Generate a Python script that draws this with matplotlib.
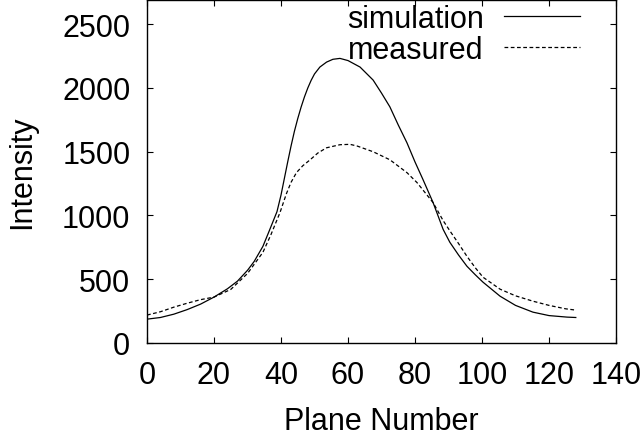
import matplotlib
matplotlib.use('Agg')
import matplotlib.pyplot as plt
from matplotlib import rcParams as rc

# simulated profile
sim_x = [0, 4, 8, 12, 16, 20, 24, 27, 30, 32, 34.6, 36.5, 38.8, 40, 41, 42, 43, 44, 45, 46, 47, 48,
         49, 50, 51.6, 53.6, 55.5, 57.6, 60, 63.6, 67.5, 70, 72.5, 75, 77.6, 80, 82.4, 85.4, 88.4,
         90.4, 93, 95.5, 98, 100.3, 105.4, 110, 115.2, 120, 125.4, 128]
sim_y = [187, 200, 226, 262, 305, 360, 425, 485, 570, 640, 758, 880, 1030, 1160, 1290, 1420, 1545, 1660, 1760, 1850, 1930, 2000,
         2060, 2110, 2164, 2203, 2225, 2232, 2215, 2164, 2062, 1960, 1852, 1710, 1570, 1420, 1281, 1101, 891,
         790, 690, 602, 535, 477, 367, 295, 242, 215, 203, 200]

# measured profile
meas_x = [0, 4, 8, 12, 16, 20, 25, 30, 34.6, 37, 39.7, 41.6, 43, 44.6, 46.5, 48.7, 51, 53.6, 57.6, 60.6,
          62.7, 67.5, 72.5, 77.6, 80.6, 85.4, 88.4, 90.4, 93, 95.5, 98, 100.3,
          105.4, 110, 115.2, 120, 125, 128]
meas_y = [219, 245, 281, 312, 340, 360, 420, 545, 711, 850, 1023, 1170, 1260, 1336, 1390, 1437, 1490, 1531, 1555, 1558,
          1545, 1500, 1437, 1336, 1258, 1101, 960, 880, 780, 680, 590, 516,
          422, 370, 328, 295, 268, 258]

rc['font.family'] = ['Liberation Sans', 'DejaVu Sans']
rc['font.size'] = 22

fig = plt.figure(figsize=(6.41, 4.39), dpi=100)
ax = fig.add_axes([147/641, 95/439, 469/641, 343/439])

ax.plot(sim_x, sim_y, color='black', lw=0.9, label='simulation')
ax.plot(meas_x, meas_y, color='black', lw=0.9, dashes=(3, 2), label='measured')

ax.set_xlim(0, 140)
ax.set_ylim(0, 2690)
ax.set_xticks(range(0, 141, 20))
ax.set_yticks(range(0, 2501, 500))
ax.tick_params(direction='in', top=True, right=True, length=4.5, width=0.8, pad=12)
for s in ax.spines.values():
    s.set_linewidth(1.0)

ax.set_xlabel('Plane Number', labelpad=12)
ax.set_ylabel('Intensity', labelpad=18)

ax.legend(loc='upper right', bbox_to_anchor=(580/641, 1 - 5/439),
          bbox_transform=fig.transFigure, frameon=False, markerfirst=False,
          handlelength=2.5, handletextpad=0.65, labelspacing=0.02, borderaxespad=0.0,
          borderpad=0.0)

fig.savefig('out.png', dpi=100)
